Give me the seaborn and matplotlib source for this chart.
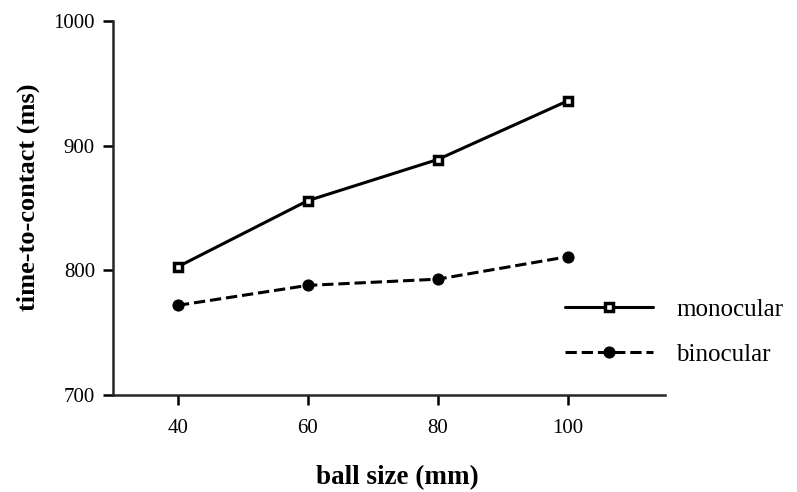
import matplotlib
matplotlib.use('Agg')
import matplotlib.pyplot as plt
import seaborn as sns
import pandas as pd

ball_size = [40, 60, 80, 100]
monocular = [803, 856, 889, 936]
binocular = [772, 788, 793, 811]

df = pd.DataFrame({'ball_size': ball_size * 2,
                   'ttc': monocular + binocular,
                   'condition': ['monocular'] * 4 + ['binocular'] * 4})

sns.set_style('ticks')
plt.rcParams['font.family'] = ['Liberation Serif', 'DejaVu Serif']
plt.rcParams['text.color'] = 'black'
plt.rcParams['axes.labelcolor'] = 'black'

fig = plt.figure(figsize=(7.97, 4.92), dpi=100)
ax = fig.add_axes([0.1418, 0.197, 0.6926, 0.760])

sns.lineplot(data=df[df['condition'] == 'monocular'], x='ball_size', y='ttc',
             ax=ax, color='black', linewidth=2.2, marker='s', markersize=6,
             markerfacecolor='white', markeredgecolor='black', markeredgewidth=2.5,
             label='monocular')
sns.lineplot(data=df[df['condition'] == 'binocular'], x='ball_size', y='ttc',
             ax=ax, color='black', linewidth=2.2, marker='o', markersize=8,
             markeredgecolor='black', dashes=(3, 2), linestyle='--',
             label='binocular')

ax.set_xlim(30, 115)
ax.set_ylim(700, 1000)
ax.set_xticks(ball_size)
ax.set_yticks([700, 800, 900, 1000])
sns.despine(ax=ax)
ax.spines['left'].set_linewidth(1.8)
ax.spines['bottom'].set_linewidth(1.8)
ax.tick_params(axis='both', direction='out', length=7, width=1.8,
               labelsize=15, pad=6, color='black', labelcolor='black')
ax.tick_params(axis='x', pad=10)

ax.set_xlabel('ball size (mm)', fontsize=19.5, fontweight='bold')
ax.set_ylabel('time-to-contact (ms)', fontsize=19, fontweight='bold')
ax.xaxis.set_label_coords(0.516, -0.187)
ax.yaxis.set_label_coords(-0.133, 0.529)

ax.legend(loc='center left', bbox_to_anchor=(0.819, 0.168), frameon=False,
          fontsize=18, handlelength=3.5, handletextpad=0.95, labelspacing=0.9,
          borderpad=0, borderaxespad=0)

fig.savefig('out.png', dpi=100)
